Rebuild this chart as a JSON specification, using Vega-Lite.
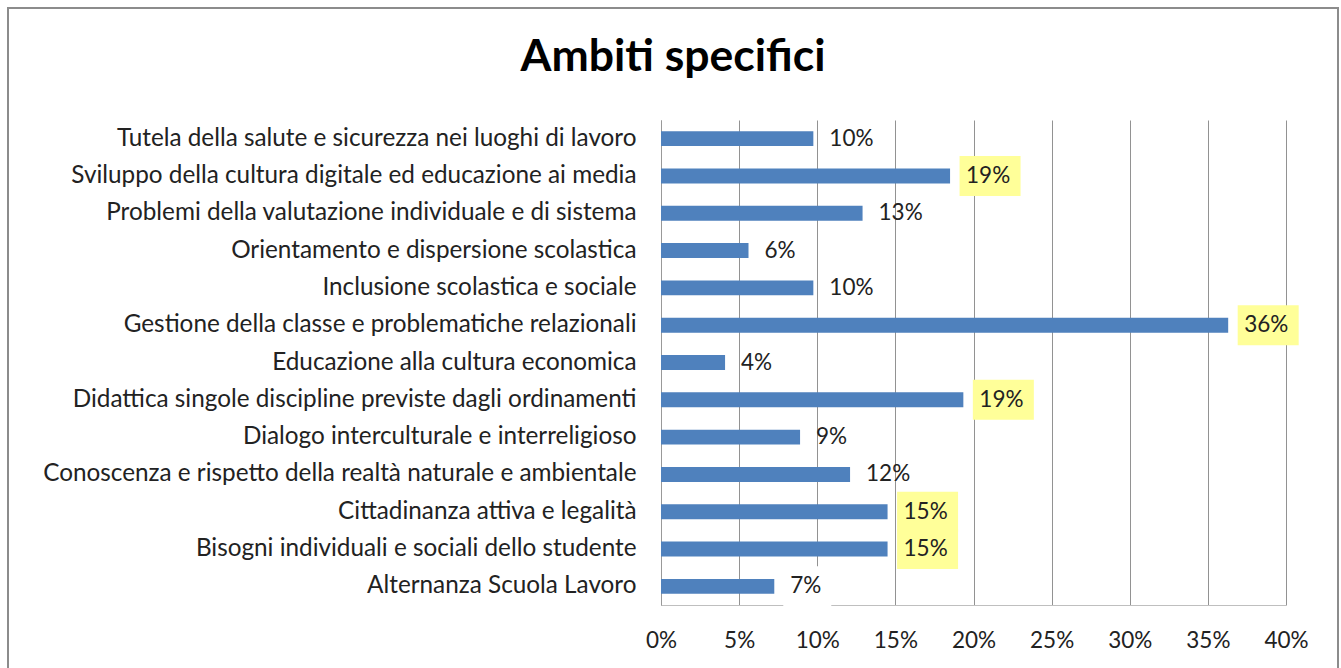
{
  "$schema": "https://vega.github.io/schema/vega-lite/v6.json",
  "width": 1330,
  "height": 709,
  "autosize": "none",
  "padding": {"left": 8, "top": 8, "right": 3, "bottom": -49},
  "background": "white",
  "config": {"font": "Lato", "view": {"stroke": "#8c8c8c", "strokeWidth": 2}},
  "title": {"text": "Ambiti specifici", "font": "Lato", "fontSize": 44.5, "fontWeight": "bold", "color": "#000000", "anchor": "middle", "frame": "group", "baseline": "alphabetic", "offset": -107},
  "data": {"values": [
    {"ambito": "Tutela della salute e sicurezza nei luoghi di lavoro", "valore": 0.0975, "etichetta": "10%", "box": "none"},
    {"ambito": "Sviluppo della cultura digitale ed educazione ai media", "valore": 0.185, "etichetta": "19%", "box": "yellow"},
    {"ambito": "Problemi della valutazione individuale e di sistema", "valore": 0.129, "etichetta": "13%", "box": "none"},
    {"ambito": "Orientamento e dispersione scolastica", "valore": 0.056, "etichetta": "6%", "box": "none"},
    {"ambito": "Inclusione scolastica e sociale", "valore": 0.0975, "etichetta": "10%", "box": "none"},
    {"ambito": "Gestione della classe e problematiche relazionali", "valore": 0.363, "etichetta": "36%", "box": "yellow"},
    {"ambito": "Educazione alla cultura economica", "valore": 0.041, "etichetta": "4%", "box": "none"},
    {"ambito": "Didattica singole discipline previste dagli ordinamenti", "valore": 0.1935, "etichetta": "19%", "box": "yellow"},
    {"ambito": "Dialogo interculturale e interreligioso", "valore": 0.089, "etichetta": "9%", "box": "none"},
    {"ambito": "Conoscenza e rispetto della realtà naturale e ambientale", "valore": 0.121, "etichetta": "12%", "box": "none"},
    {"ambito": "Cittadinanza attiva e legalità", "valore": 0.145, "etichetta": "15%", "box": "yellow"},
    {"ambito": "Bisogni individuali e sociali dello studente", "valore": 0.145, "etichetta": "15%", "box": "yellow"},
    {"ambito": "Alternanza Scuola Lavoro", "valore": 0.0725, "etichetta": "7%", "box": "white"}
  ]},
  "encoding": {
    "y": {
      "field": "ambito", "type": "nominal", "sort": null,
      "scale": {"range": [112, 597], "paddingInner": 0.6, "paddingOuter": 0.3},
      "axis": {"title": null, "offset": -653, "domainColor": "#999999", "domainWidth": 1, "ticks": false, "tickSize": 0, "labelPadding": 25, "labelFont": "Lato", "labelFontSize": 24.3, "labelColor": "#222222", "labelLimit": 0, "grid": false}
    },
    "x": {
      "field": "valore", "type": "quantitative",
      "scale": {"domain": [0, 0.4], "range": [653, 1278], "nice": false},
      "axis": {"title": null, "offset": -112, "values": [0, 0.05, 0.1, 0.15, 0.2, 0.25, 0.3, 0.35, 0.4], "format": ".0%", "grid": true, "gridColor": "#929292", "gridWidth": 1, "domainColor": "#bfbfbf", "domainWidth": 1, "ticks": false, "tickSize": 0, "labelPadding": 42, "labelBaseline": "alphabetic", "labelFont": "Lato", "labelFontSize": 22.5, "labelColor": "#222222", "labelFlush": false, "labelOverlap": false}
    }
  },
  "layer": [
    {"mark": {"type": "bar", "color": "#4F81BD"}},
    {
      "transform": [{"filter": "datum.box == 'yellow'"}],
      "mark": {"type": "point", "shape": "M-1,-0.656H1V0.656H-1Z", "size": 3721, "filled": true, "color": "#FFFF99", "opacity": 1, "strokeWidth": 0, "xOffset": 40}
    },
    {
      "transform": [{"filter": "datum.box == 'white'"}],
      "mark": {"type": "point", "shape": "M-1,-0.84H1V0.84H-1Z", "size": 2304, "filled": true, "color": "#FFFFFF", "opacity": 1, "strokeWidth": 0, "xOffset": 33}
    },
    {
      "mark": {"type": "text", "align": "left", "baseline": "middle", "dx": 16, "font": "Lato", "fontSize": 22.5, "color": "#222222"},
      "encoding": {"text": {"field": "etichetta"}}
    }
  ]
}
